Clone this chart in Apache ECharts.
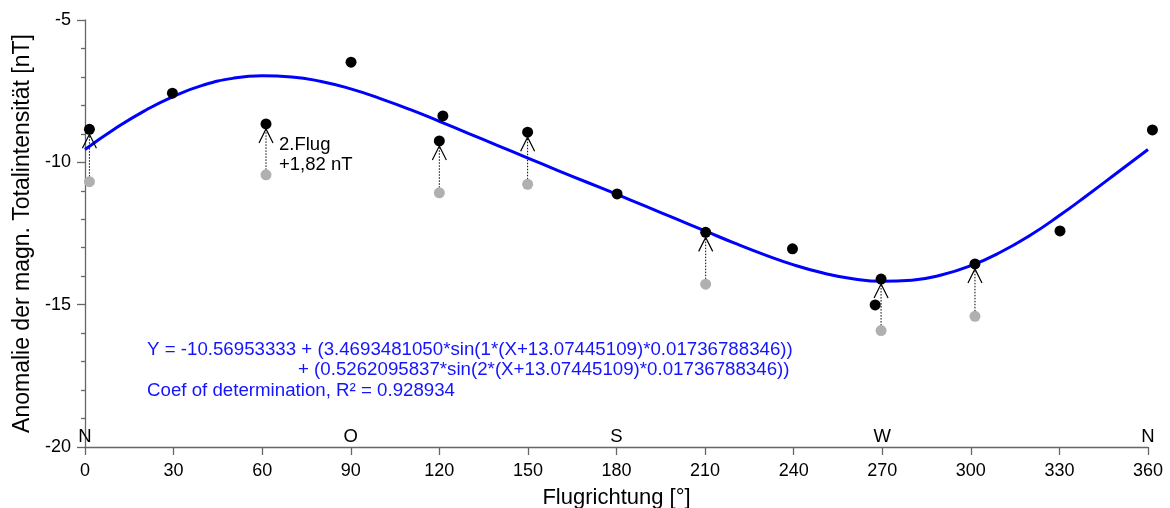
<!DOCTYPE html>
<html>
<head>
<meta charset="utf-8">
<script src="https://cdn.jsdelivr.net/npm/echarts@6/dist/echarts.min.js"></script>
<style>
html,body{margin:0;padding:0;background:#fff;}
#chart{width:1170px;height:508px;}
</style>
</head>
<body>
<div id="chart"></div>
<script>
// ---- data ----
const compassLabels = {0: 'N', 90: 'O', 180: 'S', 270: 'W', 360: 'N'};

// measured points (black), incl. second flight corrected
const blackX = [1.5, 29.6, 61.3, 90.1, 121.2, 120.0, 149.9, 180.2, 210.2, 239.6, 269.6, 267.6, 301.4, 330.2, 361.5];
const blackY = [-8.84, -7.57, -8.65, -6.48, -8.37, -9.25, -8.94, -11.11, -12.46, -13.04, -14.10, -15.01, -13.57, -12.41, -8.86];

// second flight original values (grey) and their corrected values (arrow targets)
const grayX = [1.5, 61.3, 120.0, 149.9, 210.2, 269.6, 301.4];
const grayY = [-10.68, -10.44, -11.07, -10.77, -14.28, -15.91, -15.41];
const shiftedY = [-8.84, -8.65, -9.25, -8.94, -12.46, -14.10, -13.57];

// fitted curve
const fitX = [0,10,20,30,40,50,60,70,80,90,100,110,120,130,140,150,160,170,180,190,200,210,220,230,240,250,260,270,280,290,300,310,320,330,340,350,360];
const fitY = [-9.55,-8.83,-8.20,-7.68,-7.29,-7.05,-6.96,-7.00,-7.16,-7.42,-7.76,-8.14,-8.56,-8.99,-9.42,-9.85,-10.28,-10.70,-11.12,-11.55,-11.98,-12.41,-12.84,-13.24,-13.60,-13.89,-14.09,-14.18,-14.14,-13.96,-13.63,-13.16,-12.57,-11.87,-11.11,-10.33,-9.55];

const eqLine1 = 'Y = -10.56953333 + (3.4693481050*sin(1*(X+13.07445109)*0.01736788346))';
const eqLine2 = '+ (0.5262095837*sin(2*(X+13.07445109)*0.01736788346))';
const eqLine3 = 'Coef of determination, R\u00B2 = 0.928934';
const noteLine1 = '2.Flug';
const noteLine2 = '+1,82 nT';

// ---- chart ----
const FONT = '"Liberation Sans", Arial, sans-serif';
const chart = echarts.init(document.getElementById('chart'), null, {renderer: 'canvas'});

const blackData = blackX.map((x, i) => [x, blackY[i]]);
const grayData = grayX.map((x, i) => [x, grayY[i]]);
const arrowData = grayX.map((x, i) => [x, grayY[i], shiftedY[i]]);
const fitData = fitX.map((x, i) => [x, fitY[i]]);

const axisCol = '#666';
const TXT = 18.5;

chart.setOption({
  animation: false,
  backgroundColor: '#fff',
  textStyle: {fontFamily: FONT},
  grid: {left: 85, right: 22, top: 20, bottom: 61, containLabel: false, outerBoundsMode: 'none'},
  xAxis: [{
    type: 'value', min: 0, max: 360, interval: 30,
    axisLine: {show: true, onZero: false, lineStyle: {color: axisCol, width: 1.3}},
    axisTick: {show: true, length: 8, lineStyle: {color: axisCol, width: 1.3}},
    splitLine: {show: false},
    axisLabel: {color: '#000', fontSize: 18, margin: 15, fontFamily: FONT},
    name: 'Flugrichtung [°]', nameLocation: 'middle', nameGap: 40,
    nameTextStyle: {color: '#000', fontSize: 22, fontFamily: FONT}
  }, {
    type: 'value', min: 0, max: 360, interval: 90, position: 'bottom',
    axisLine: {show: false}, axisTick: {show: false}, splitLine: {show: false},
    axisLabel: {inside: true, color: '#000', fontSize: TXT, margin: 1, fontFamily: FONT,
      formatter: v => compassLabels[v] || ''}
  }],
  yAxis: {
    type: 'value', min: -20, max: -5, interval: 5,
    axisLine: {show: true, onZero: false, lineStyle: {color: axisCol, width: 1.3}},
    axisTick: {show: true, length: 8, lineStyle: {color: axisCol, width: 1.3}},
    minorTick: {show: true, splitNumber: 5, length: 4, lineStyle: {color: axisCol, width: 1.3}},
    splitLine: {show: false},
    axisLabel: {color: '#000', fontSize: 18, margin: 14, fontFamily: FONT},
    name: 'Anomalie der magn. Totalintensität [nT]', nameLocation: 'middle', nameGap: 43,
    nameTextStyle: {color: '#000', fontSize: 23, fontFamily: FONT}
  },
  series: [{
    type: 'line', data: fitData, smooth: true, showSymbol: false, symbol: 'none',
    lineStyle: {color: '#0000ff', width: 3}, z: 2, silent: true
  }, {
    type: 'custom', data: arrowData, z: 3, silent: true, clip: false,
    renderItem: function (params, api) {
      const p0 = api.coord([api.value(0), api.value(1)]);
      const p1 = api.coord([api.value(0), api.value(2)]);
      const x = p0[0];
      const tip = p1[1] + 5;
      return {
        type: 'group',
        children: [{
          type: 'line',
          shape: {x1: x, y1: p0[1] - 5, x2: x, y2: tip},
          style: {stroke: '#000', lineWidth: 1, lineDash: [1.5, 1.5]}
        }, {
          type: 'polyline',
          shape: {points: [[x - 7, tip + 14], [x, tip], [x + 7, tip + 14]]},
          style: {stroke: '#000', lineWidth: 1.2, fill: null}
        }]
      };
    }
  }, {
    type: 'scatter', data: grayData, symbol: 'circle', symbolSize: 11, clip: false,
    itemStyle: {color: '#b0b0b0', opacity: 1}, z: 4, silent: true
  }, {
    type: 'scatter', data: blackData, symbol: 'circle', symbolSize: 11, clip: false,
    itemStyle: {color: '#000', opacity: 1}, z: 5, silent: true
  }],
  graphic: [
    {type: 'text', left: 279, top: 135, style: {text: noteLine1, font: TXT + 'px ' + FONT, fill: '#000'}},
    {type: 'text', left: 279, top: 155, style: {text: noteLine2, font: TXT + 'px ' + FONT, fill: '#000'}},
    {type: 'text', left: 147, top: 340, style: {text: eqLine1, font: '18.7px ' + FONT, fill: '#1414ff'}},
    {type: 'text', left: 298, top: 360, style: {text: eqLine2, font: '18.7px ' + FONT, fill: '#1414ff'}},
    {type: 'text', left: 147, top: 381, style: {text: eqLine3, font: '18.7px ' + FONT, fill: '#1414ff'}}
  ]
});
</script>
</body>
</html>
